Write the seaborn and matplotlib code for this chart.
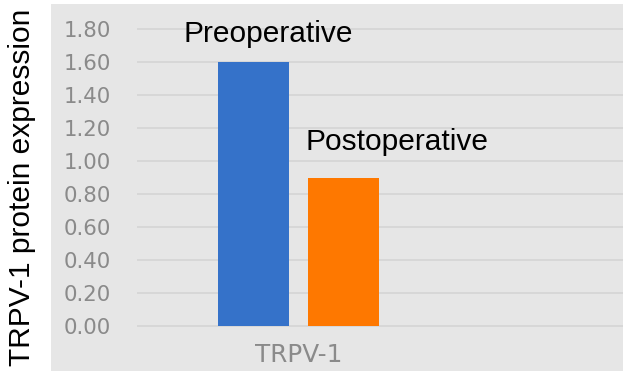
import matplotlib
matplotlib.use("Agg")
import matplotlib.pyplot as plt
import seaborn as sns
import pandas as pd
from matplotlib.patches import Rectangle

# Data
genes = ["TRPV-1", "TRPV-1"]
timepoints = ["Preoperative", "Postoperative"]
values = [1.60, 0.90]
ytick_values = [0.0, 0.2, 0.4, 0.6, 0.8, 1.0, 1.2, 1.4, 1.6, 1.8]
ytick_labels = ["0.00", "0.20", "0.40", "0.60", "0.80", "1.00", "1.20", "1.40", "1.60", "1.80"]
bar_colors = ["#3572c9", "#fe7800"]

df = pd.DataFrame({"gene": genes, "timepoint": timepoints, "value": values})

sns.set_theme(style="white")
W, H = 623, 371
fig = plt.figure(figsize=(W / 100, H / 100), dpi=100, facecolor="white")

# gray panel behind the chart
fig.patches.append(Rectangle((51 / W, 0), (W - 51) / W, (H - 4) / H,
                             transform=fig.transFigure, facecolor="#e6e6e6",
                             edgecolor="none", zorder=-5))

ax = fig.add_axes([137 / W, (H - 342.5) / H, (W - 137) / W, 330 / H])
ax.set_zorder(5)
ax.set_facecolor("none")

sns.barplot(data=df, x="gene", y="value", hue="timepoint",
            palette=bar_colors, width=0.8, gap=0.21, saturation=1,
            legend=False, ax=ax, zorder=3, edgecolor="none", linewidth=0)

ax.set_ylim(-0.1, 1.9)
ax.set_xlim(-0.718, 1.442)
ax.set_yticks(ytick_values)
ax.set_yticklabels(ytick_labels, family="DejaVu Sans")
for y in ytick_values:
    ax.axhline(y, color="#d7d7d7", linewidth=1.4, zorder=1)

for s in ax.spines.values():
    s.set_visible(False)
ax.tick_params(axis="y", length=0, pad=18.5, labelsize=15.3, labelcolor="#8a8a8a")
ax.tick_params(axis="x", length=0, pad=0, labelsize=17.8, labelcolor="#8a8a8a")
ax.set_xlabel("")
ax.set_ylabel("")

# annotations
ax.text(-0.513, 1.721, "Preoperative", family="Liberation Sans", fontsize=21.5,
        color="black", ha="left", va="baseline")
ax.text(0.029, 1.067, "Postoperative", family="Liberation Sans", fontsize=21.5,
        color="black", ha="left", va="baseline")

fig.text(22 / W, 1 - 187.5 / H, "TRPV-1 protein expression", family="Liberation Sans",
         fontsize=21.5, rotation=90, ha="center", va="center", color="black")

fig.savefig("out.png", dpi=100, facecolor="white")
